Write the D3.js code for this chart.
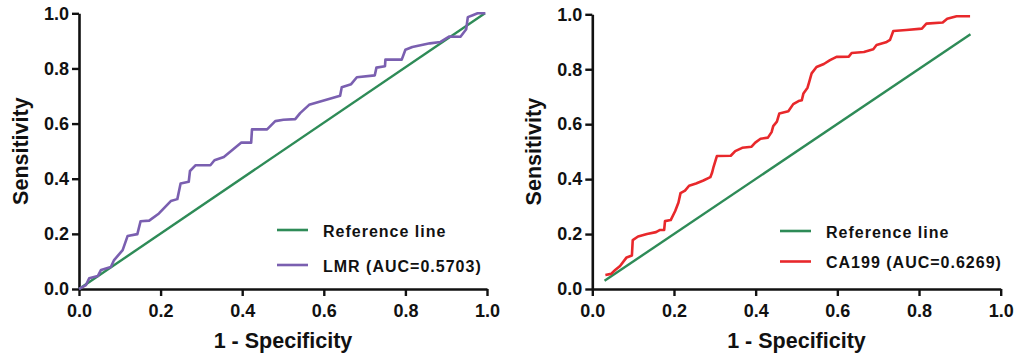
<!DOCTYPE html>
<html>
<head>
<meta charset="utf-8">
<script src="https://cdn.jsdelivr.net/npm/d3@7"></script>
<style>
  html, body { margin: 0; padding: 0; background: #fff; }
  svg { display: block; font-family: "Liberation Sans", Arial, sans-serif; font-weight: bold; }
</style>
</head>
<body>
<svg id="chart" width="1017" height="358"></svg>
<script>
// ---------- data ----------
const tickValues = [0.0, 0.2, 0.4, 0.6, 0.8, 1.0];
const xTitle = "1 - Specificity";
const yTitle = "Sensitivity";

// Left panel: LMR
const lmrFPR = [0, 0.017, 0.025, 0.046, 0.054, 0.078, 0.086, 0.107, 0.119, 0.143, 0.151, 0.172, 0.196, 0.225, 0.241, 0.249, 0.269, 0.272, 0.286, 0.322, 0.332, 0.355, 0.398, 0.422, 0.424, 0.461, 0.481, 0.501, 0.530, 0.542, 0.564, 0.640, 0.644, 0.667, 0.681, 0.725, 0.729, 0.750, 0.751, 0.791, 0.800, 0.817, 0.860, 0.886, 0.908, 0.935, 0.949, 0.953, 0.965, 0.977, 0.996];
const lmrTPR = [0, 0.014, 0.039, 0.047, 0.069, 0.080, 0.105, 0.141, 0.192, 0.199, 0.246, 0.248, 0.274, 0.319, 0.326, 0.383, 0.389, 0.428, 0.449, 0.449, 0.467, 0.479, 0.531, 0.531, 0.579, 0.579, 0.609, 0.614, 0.616, 0.638, 0.668, 0.701, 0.732, 0.743, 0.768, 0.775, 0.803, 0.808, 0.832, 0.832, 0.868, 0.878, 0.891, 0.896, 0.916, 0.915, 0.942, 0.986, 0.993, 1.0, 1.0];
const lmrRefX = [0, 0.995];
const lmrRefY = [0, 1.0];

// Right panel: CA199
const caFPR = [0.032, 0.046, 0.056, 0.068, 0.084, 0.097, 0.099, 0.112, 0.134, 0.156, 0.166, 0.176, 0.178, 0.192, 0.203, 0.211, 0.216, 0.227, 0.237, 0.254, 0.272, 0.289, 0.293, 0.297, 0.305, 0.339, 0.350, 0.367, 0.390, 0.399, 0.412, 0.430, 0.439, 0.443, 0.452, 0.458, 0.480, 0.492, 0.505, 0.513, 0.517, 0.527, 0.531, 0.537, 0.549, 0.567, 0.582, 0.598, 0.628, 0.635, 0.665, 0.688, 0.696, 0.719, 0.729, 0.737, 0.769, 0.807, 0.818, 0.858, 0.869, 0.892, 0.925];
const caTPR = [0.051, 0.055, 0.069, 0.084, 0.115, 0.122, 0.178, 0.191, 0.200, 0.207, 0.215, 0.215, 0.247, 0.251, 0.284, 0.315, 0.349, 0.358, 0.376, 0.384, 0.395, 0.407, 0.422, 0.445, 0.484, 0.485, 0.502, 0.514, 0.518, 0.533, 0.547, 0.551, 0.571, 0.593, 0.609, 0.639, 0.647, 0.673, 0.684, 0.687, 0.712, 0.733, 0.753, 0.785, 0.808, 0.819, 0.833, 0.845, 0.846, 0.859, 0.863, 0.873, 0.888, 0.898, 0.907, 0.939, 0.943, 0.948, 0.966, 0.970, 0.984, 0.993, 0.993];
const caRefX = [0.030, 0.926];
const caRefY = [0.030, 0.927];

const legendLabels = [["Reference line", "LMR (AUC=0.5703)"], ["Reference line", "CA199 (AUC=0.6269)"]];

// ---------- drawing ----------
const colors = { ref: "#2e8b57", lmr: "#7a5fb0", ca: "#e8282b", axis: "#111" };
const svg = d3.select("#chart");

const panels = [
  { xr: [79, 487], yr: [289, 13.3], fpr: lmrFPR, tpr: lmrTPR, rx: lmrRefX, ry: lmrRefY, color: colors.lmr,
    legend: legendLabels[0], legX: 277, legY: [230, 265] },
  { xr: [592.3, 1000.7], yr: [289, 14.3], fpr: caFPR, tpr: caTPR, rx: caRefX, ry: caRefY, color: colors.ca,
    legend: legendLabels[1], legX: 780, legY: [231, 261.5] }
];

panels.forEach(p => {
  const x = d3.scaleLinear().domain([0, 1]).range(p.xr);
  const y = d3.scaleLinear().domain([0, 1]).range(p.yr);
  const g = svg.append("g");

  const fmt = d3.format(".1f");
  const xAxis = d3.axisBottom(x).tickValues(tickValues).tickFormat(fmt).tickSize(7).tickSizeOuter(0).tickPadding(8);
  const yAxis = d3.axisLeft(y).tickValues(tickValues).tickFormat(fmt).tickSize(7).tickSizeOuter(0).tickPadding(3);

  const gx = g.append("g").attr("transform", `translate(0,${p.yr[0]})`).call(xAxis);
  const gy = g.append("g").attr("transform", `translate(${p.xr[0]},0)`).call(yAxis);
  [gx, gy].forEach(a => {
    a.selectAll("path.domain").attr("stroke", colors.axis).attr("stroke-width", 2.6);
    a.selectAll(".tick line").attr("stroke", colors.axis).attr("stroke-width", 2.4);
    a.selectAll(".tick text").attr("fill", "#111").style("font-size", "18px").style("font-weight", "bold")
      .style("font-family", '"Liberation Sans", Arial, sans-serif');
  });

  // axis titles
  g.append("text").attr("x", (p.xr[0] + p.xr[1]) / 2).attr("y", 348)
    .attr("text-anchor", "middle").style("font-size", "21.5px").attr("fill", "#111").text(xTitle);
  g.append("text").attr("transform", `translate(${p.xr[0] - 51},${(p.yr[0] + p.yr[1]) / 2}) rotate(-90)`)
    .attr("text-anchor", "middle").style("font-size", "21.5px").attr("fill", "#111").text(yTitle);

  const line = d3.line().x(d => x(d[0])).y(d => y(d[1]));

  // reference line
  g.append("path").datum(p.rx.map((v, i) => [v, p.ry[i]]))
    .attr("d", line).attr("fill", "none").attr("stroke", colors.ref).attr("stroke-width", 2.4);

  // ROC curve
  g.append("path").datum(p.fpr.map((v, i) => [v, p.tpr[i]]))
    .attr("d", line).attr("fill", "none").attr("stroke", p.color).attr("stroke-width", 2.6)
    .attr("stroke-linejoin", "round");

  // legend
  const legColors = [colors.ref, p.color];
  p.legend.forEach((lab, i) => {
    const ly = p.legY[i];
    g.append("line").attr("x1", p.legX).attr("x2", p.legX + 31).attr("y1", ly).attr("y2", ly)
      .attr("stroke", legColors[i]).attr("stroke-width", 2.6);
    g.append("text").attr("x", p.legX + 46).attr("y", ly + 6.5)
      .style("font-size", "16px").style("letter-spacing", "1px").attr("fill", "#111").text(lab);
  });
});
</script>
</body>
</html>
